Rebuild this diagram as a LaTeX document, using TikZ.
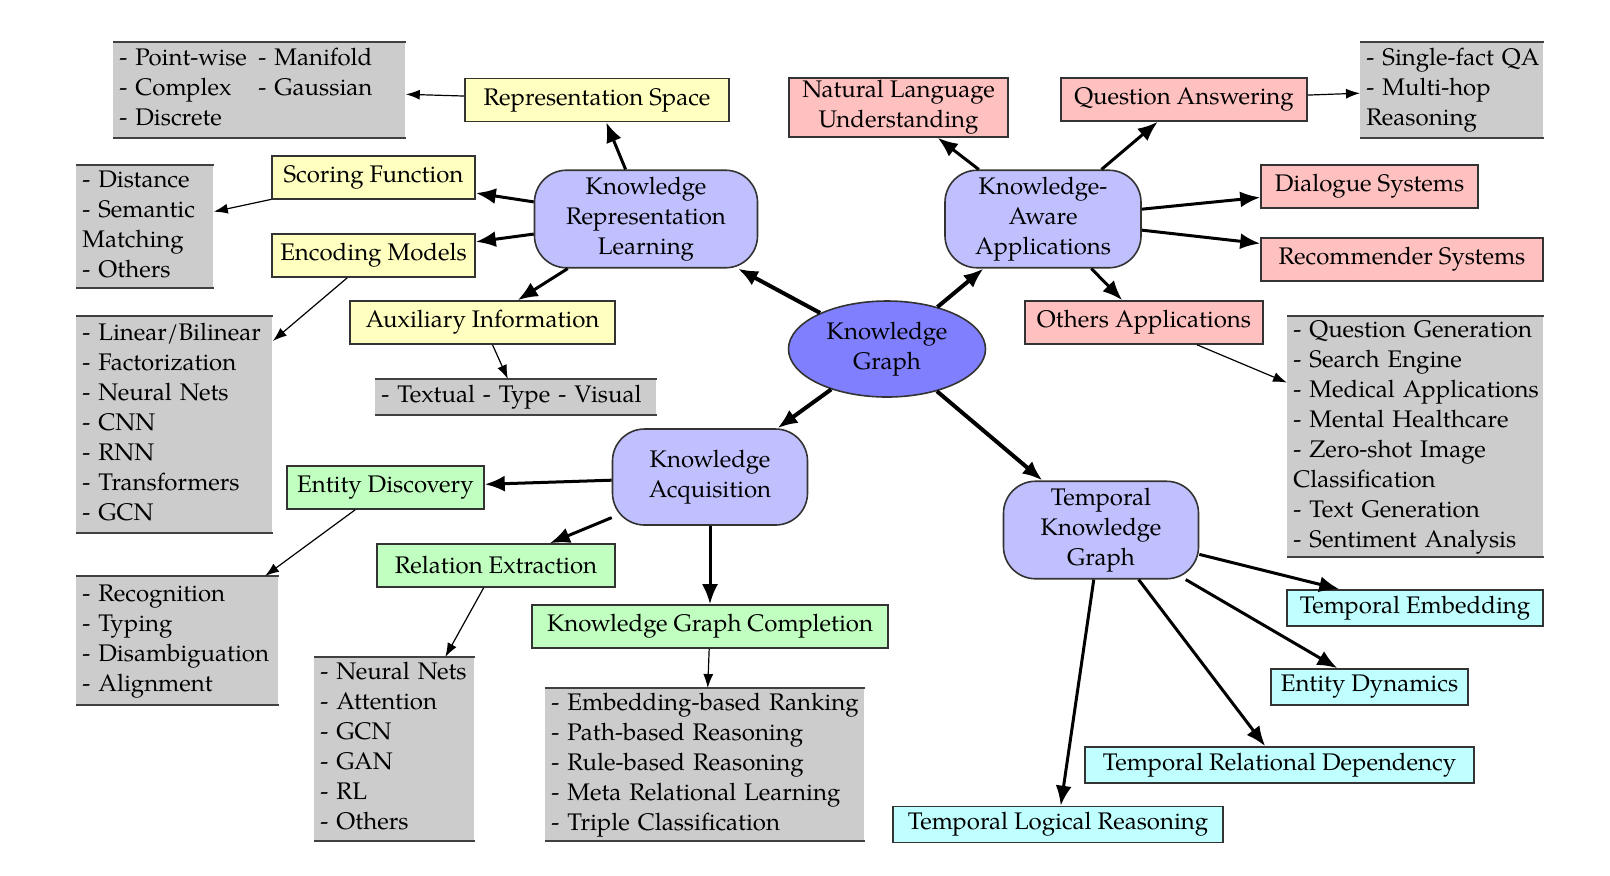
\documentclass[tikz,border=0pt]{standalone}
\usepackage{fontspec}
\setmainfont{TeX Gyre Pagella}
\usetikzlibrary{arrows.meta,shapes.geometric}
\definecolor{hubblue}{HTML}{C0C0FF}
\definecolor{kgblue}{HTML}{8080FF}
\definecolor{krlyellow}{HTML}{FFFFC0}
\definecolor{appred}{HTML}{FFC0C0}
\definecolor{kagreen}{HTML}{C0FFC0}
\definecolor{tkgcyan}{HTML}{C0FFFF}
\definecolor{listgray}{HTML}{CCCCCC}
\newcommand{\items}[1]{\begin{tabular}{@{}l@{}}#1\end{tabular}}
\tikzset{
  hub/.style  ={rectangle,draw=black!80,line width=0.8pt,rounded corners=16pt,fill=hubblue,
                align=center,minimum width=97.5pt,minimum height=48pt,inner xsep=15pt},
  kgnode/.style ={ellipse,draw=black!80,line width=0.8pt,fill=kgblue,align=center,
                minimum width=98.5pt,minimum height=48pt,inner sep=0pt},
  topic/.style={rectangle,draw=black!80,line width=0.8pt,minimum height=21.5pt,inner sep=2pt,align=center},
  list/.style ={rectangle,fill=listgray,anchor=north west,align=left,inner xsep=3pt,inner ysep=0pt},
  rule/.style ={draw=black!75,line width=1pt},
  link/.style ={-{Latex[length=10pt,width=8pt]},line width=1.5pt},
  sub/.style  ={-{Latex[length=7pt,width=5pt]},line width=0.6pt}
}

\begin{document}
\begin{tikzpicture}[x=0.5pt,y=-0.5pt,font=\fontsize{12}{15}\selectfont]
\useasboundingbox (0,0) rectangle (1610,875);

% -------- main topics --------
\node[kgnode] (kg) at (887,349) {Knowledge\\Graph};
\node[hub,minimum width=111.5pt] (krl) at (646,219) {Knowledge\\Representation\\Learning};
\node[hub] (kaa) at (1043,219) {Knowledge-\\Aware\\Applications};
\node[hub] (ka)  at (710,477) {Knowledge\\Acquisition};
\node[hub] (tkg) at (1101,530) {Temporal\\Knowledge\\Graph};

% -------- representation learning --------
\node[topic,fill=krlyellow,minimum width=132pt]   (rs) at (597,100)     {Representation Space};
\node[topic,fill=krlyellow,minimum width=101.5pt] (sf) at (373.5,177.5) {Scoring Function};
\node[topic,fill=krlyellow,minimum width=101.5pt] (em) at (373.5,255.5) {Encoding Models};
\node[topic,fill=krlyellow,minimum width=132.5pt] (ai) at (482.5,322.5) {Auxiliary Information};

% -------- applications --------
\node[topic,fill=appred,minimum width=109.5pt,minimum height=29.5pt,inner ysep=1pt] (nlu) at (898.5,107.5) {Natural Language\\Understanding};
\node[topic,fill=appred,minimum width=123pt]   (qa)  at (1184,99.5)   {Question Answering};
\node[topic,fill=appred,minimum width=108.5pt] (ds)  at (1369.5,186.5) {Dialogue Systems};
\node[topic,fill=appred,minimum width=141pt]   (rec) at (1402,259.5)  {Recommender Systems};
\node[topic,fill=appred,minimum width=119pt]   (oa)  at (1144,322.5)  {Others Applications};

% -------- acquisition --------
\node[topic,fill=kagreen,minimum width=98.5pt] (ed)  at (385.5,487.5) {Entity Discovery};
\node[topic,fill=kagreen,minimum width=119pt]  (re)  at (496,565.5)   {Relation Extraction};
\node[topic,fill=kagreen,minimum width=178pt]  (kgc) at (710,626.5)   {Knowledge Graph Completion};

% -------- temporal --------
\node[topic,fill=tkgcyan,minimum width=128pt,minimum height=18pt]   (te)  at (1415,608)    {Temporal Embedding};
\node[topic,fill=tkgcyan,minimum width=98.5pt,minimum height=18pt]  (edy) at (1369.5,687)  {Entity Dynamics};
\node[topic,fill=tkgcyan,minimum width=194.5pt,minimum height=18pt] (trd) at (1279.5,765)  {Temporal Relational Dependency};
\node[topic,fill=tkgcyan,minimum width=165pt,minimum height=18pt]   (tlr) at (1058,824.5)  {Temporal Logical Reasoning};

% -------- lists --------
\node[list,text width=140pt,minimum height=47.5pt] (rsl) at (113,42)
  {\items{\makebox[69.5pt][l]{- Point-wise}- Manifold\\\makebox[69.5pt][l]{- Complex}- Gaussian\\- Discrete}};
\node[list,text width=62.5pt,minimum height=61pt] (sfl) at (76,165) {\items{- Distance\\- Semantic\\Matching\\- Others}};
\node[list,text width=92pt,minimum height=108pt] (eml) at (76,316)
  {\items{- Linear/Bilinear\\- Factorization\\- Neural Nets\\- CNN\\- RNN\\- Transformers\\- GCN}};
\node[list,text width=134.5pt,minimum height=17.5pt] (ail) at (375,379) {\items{- Textual - Type - Visual}};
\node[list,text width=95pt,minimum height=64pt] (edl) at (76,576) {\items{- Recognition\\- Typing\\- Disambiguation\\- Alignment}};
\node[list,text width=74pt,minimum height=91.5pt] (rel) at (314,657) {\items{- Neural Nets\\- Attention\\- GCN\\- GAN\\- RL\\- Others}};
\node[list,text width=153.5pt,minimum height=76pt] (kgl) at (545,688)
  {\items{- Embedding-based Ranking\\- Path-based Reasoning\\- Rule-based Reasoning\\- Meta Relational Learning\\- Triple Classification}};
\node[list,text width=85.5pt,minimum height=47.5pt] (qal) at (1360,42) {\items{- Single-fact QA\\- Multi-hop\\Reasoning}};
\node[list,text width=122pt,minimum height=119pt] (oal) at (1287,316)
  {\items{- Question Generation\\- Search Engine\\- Medical Applications\\- Mental Healthcare\\- Zero-shot Image\\Classification\\- Text Generation\\- Sentiment Analysis}};

\foreach \l in {rsl,sfl,eml,ail,edl,rel,kgl,qal,oal}
  \draw[rule] (\l.north west) -- (\l.north east) (\l.south west) -- (\l.south east);

% -------- connectors --------
\foreach \b in {krl,kaa,ka,tkg} \draw[link,line width=2pt] (kg) -- (\b);
\foreach \b in {rs,sf,em,ai} \draw[link] (krl) -- (\b);
\foreach \b in {nlu,qa,ds,rec,oa} \draw[link] (kaa) -- (\b);
\foreach \b in {ed,re,kgc} \draw[link] (ka) -- (\b);
\foreach \b in {te,edy,trd,tlr} \draw[link] (tkg) -- (\b);
\foreach \a/\b in {rs/rsl,sf/sfl,em/eml,ai/ail,qa/qal,oa/oal,ed/edl,re/rel,kgc/kgl} \draw[sub] (\a) -- (\b);

\end{tikzpicture}
\end{document}
